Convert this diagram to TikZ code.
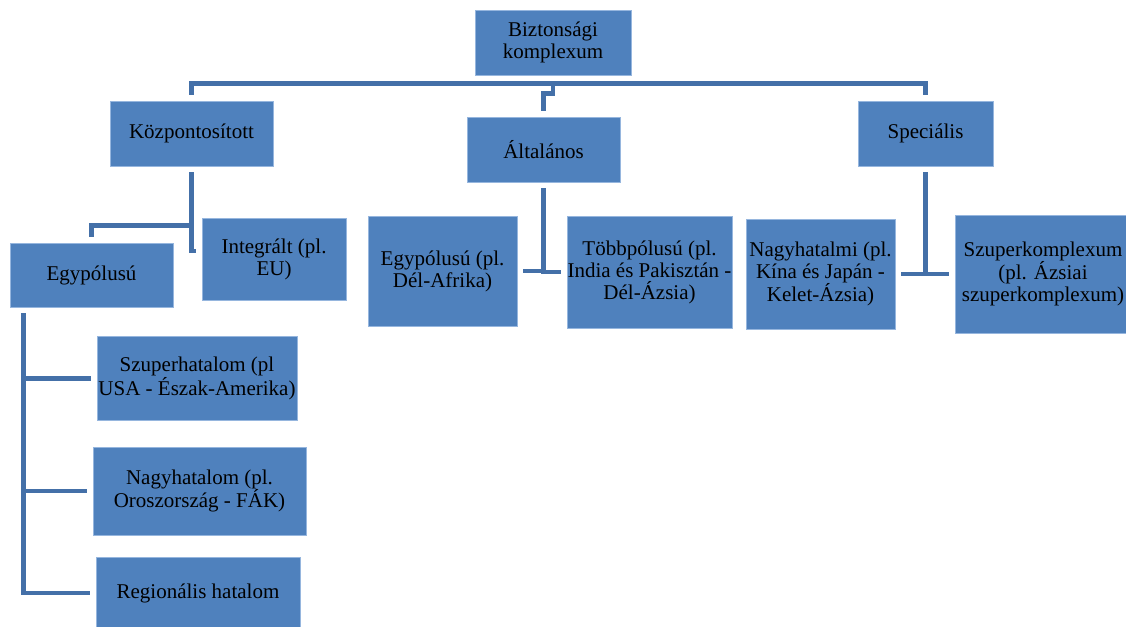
\documentclass[tikz,border=0pt]{standalone}
\usepackage{fontspec}
\setmainfont{Liberation Serif}
\definecolor{boxblue}{RGB}{79,129,189}
\definecolor{lineblue}{RGB}{68,112,168}
\definecolor{edgeblue}{RGB}{150,182,222}
\begin{document}
\begin{tikzpicture}[x=1pt,y=-1pt,
  box/.style 2 args={draw=edgeblue,line width=0.8pt,fill=boxblue,align=center,inner sep=0pt,
    minimum width=#1pt,minimum height=#2pt,font=\fontsize{21}{22}\selectfont},
  conn/.style={draw=lineblue,line width=4.5pt,shorten >=6pt,shorten <=6pt}]
  \useasboundingbox (0,0) rectangle (1126,626);
  \node[box={156}{65}] (root) at (553,42.5) {Biztonsági\\komplexum};
  \node[box={163}{65}] (kozp) at (191.5,133.5) {Központosított};
  \node[box={153}{65}] (alt) at (543.5,149.5) {Általános};
  \node[box={135}{65}] (spec) at (925.5,133.5) {Speciális};
  \node[box={163}{64}] (egy) at (91.5,275) {Egypólusú};
  \node[box={144}{82}] (integ) at (274,259) {Integrált (pl.\\EU)};
  \node[box={149}{110}] (egyda) at (442.5,271) {Egypólusú (pl.\\Dél-Afrika)};
  \node[box={165}{112}] (tobb) at (649.5,272) {Többpólusú (pl.\\India és Pakisztán -\\Dél-Ázsia)};
  \node[box={149}{110}] (nagyi) at (820.5,274) {Nagyhatalmi (pl.\\Kína és Japán -\\Kelet-Ázsia)};
  \node[box={176}{118}] (szk) at (1043,274) {Szuperkomplexum\\(pl. Ázsiai\\szuperkomplexum)};
  \node[box={200}{84}] (szuper) at (197,378.5) {Szuperhatalom (pl\\USA - Észak-Amerika)};
  \node[box={213}{88}] (nagy) at (199.5,491) {Nagyhatalom (pl.\\Oroszország - FÁK)};
  \node[box={204}{72}] (reg) at (198,593) {Regionális hatalom};
  \draw[conn,shorten <=0pt] (root.south) ++(0,8) -| (kozp.north);
  \draw[conn,shorten <=0pt] (root.south) ++(0,8) -| (spec.north);
  \draw[conn,shorten <=0pt] (root.south) ++(0,8) -- ++(0,10) -| (alt.north);
  \draw[conn] (kozp.south) -- ++(0,59) -| (egy.north);
  \draw[conn] (kozp.south) |- ([yshift=8pt]integ.west);
  \draw[conn] (alt.south) |- (egyda.east);
  \draw[conn] (alt.south) |- (tobb.west);
  \draw[conn] (spec.south) |- (nagyi.east);
  \draw[conn] (spec.south) |- (szk.west);
  \draw[conn] ([xshift=14pt]egy.south west) |- (szuper.west);
  \draw[conn] ([xshift=14pt]egy.south west) |- (nagy.west);
  \draw[conn] ([xshift=14pt]egy.south west) |- (reg.west);
\end{tikzpicture}
\end{document}
